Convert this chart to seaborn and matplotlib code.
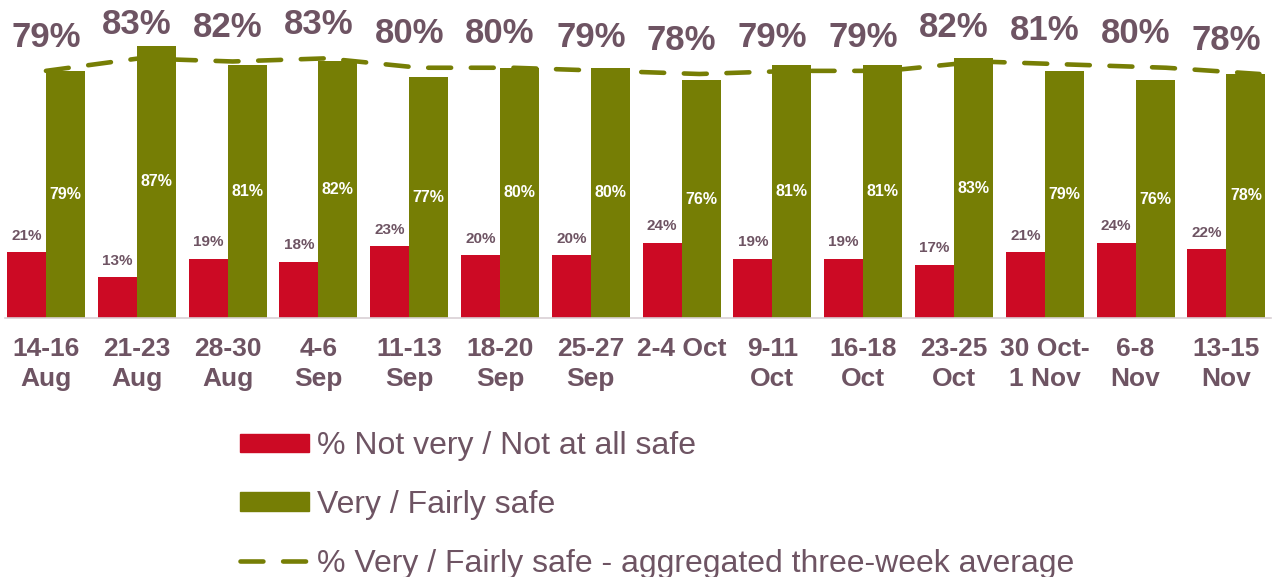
import numpy as np
import pandas as pd
import matplotlib.pyplot as plt
import seaborn as sns

# Data
weeks = ['14-16\nAug', '21-23\nAug', '28-30\nAug', '4-6\nSep', '11-13\nSep', '18-20\nSep',
         '25-27\nSep', '2-4 Oct', '9-11\nOct', '16-18\nOct', '23-25\nOct', '30 Oct-\n1 Nov',
         '6-8\nNov', '13-15\nNov']
not_safe = [21, 13, 19, 18, 23, 20, 20, 24, 19, 19, 17, 21, 24, 22]
safe = [79, 87, 81, 82, 77, 80, 80, 76, 81, 81, 83, 79, 76, 78]
avg_3wk = [79, 83, 82, 83, 80, 80, 79, 78, 79, 79, 82, 81, 80, 78]

RED = '#CC0A24'
GREEN = '#767E05'
TEXT = '#6E5463'

lbl_not = '% Not very / Not at all safe'
lbl_safe = 'Very / Fairly safe'
lbl_avg = '% Very / Fairly safe - aggregated three-week average'

df = pd.DataFrame({
    'Week': weeks * 2,
    'Value': not_safe + safe,
    'Group': [lbl_not] * len(weeks) + [lbl_safe] * len(weeks),
})

sns.set_style('white')
plt.rcParams['font.family'] = ['Liberation Sans', 'DejaVu Sans']

fig = plt.figure(figsize=(12.76, 5.77), dpi=100)
ax = fig.add_axes([0.004, 0.449, 0.992, 0.542])

sns.barplot(data=df, x='Week', y='Value', hue='Group', order=weeks,
            hue_order=[lbl_not, lbl_safe], palette=[RED, GREEN],
            width=0.86, gap=0, linewidth=0, saturation=1, ax=ax, legend=False)

# the average line sits on its own slightly wider category spacing
n = len(weeks)
line_x = np.arange(n) * 1.028
ax.plot(line_x, avg_3wk, color=GREEN, linewidth=3.3, linestyle=(0, (5.0, 4.3)),
        dash_capstyle='round', solid_capstyle='round')

ax.set_xlim(-0.45, 13.49)
ax.set_ylim(0, 100)
ax.set_xlabel('')
ax.set_ylabel('')
ax.set_yticks([])
for s in ['top', 'left', 'right']:
    ax.spines[s].set_visible(False)
ax.spines['bottom'].set_color('#D9D0D4')
ax.spines['bottom'].set_linewidth(1.2)

ax.tick_params(axis='x', length=0, pad=14)
for t in ax.get_xticklabels():
    t.set_fontsize(19)
    t.set_fontweight('bold')
    t.set_color(TEXT)
    t.set_linespacing(1.3)

off = 0.215
for i in range(n):
    ax.text(i - off, not_safe[i] + 3, f'{not_safe[i]}%', ha='center', va='bottom',
            fontsize=11, fontweight='bold', color=TEXT)
    ax.text(i + off, safe[i] / 2, f'{safe[i]}%', ha='center', va='center',
            fontsize=11.5, fontweight='bold', color='white')
    ax.text(i, avg_3wk[i] + 10.8, f'{avg_3wk[i]}%', ha='center', va='center',
            fontsize=25, fontweight='bold', color=TEXT)

handles = [
    plt.Rectangle((0, 0), 1, 1, color=RED),
    plt.Rectangle((0, 0), 1, 1, color=GREEN),
    plt.Line2D([0], [0], color=GREEN, linewidth=3.3, linestyle=(0, (5.0, 4.3)),
               dash_capstyle='round'),
]
leg = fig.legend(handles, [lbl_not, lbl_safe, lbl_avg], loc='upper left',
                 bbox_to_anchor=(0.178, 0.275), frameon=False, fontsize=23,
                 handlelength=2.15, handleheight=0.5, handletextpad=0.25,
                 labelspacing=0.9, borderaxespad=0)
for t in leg.get_texts():
    t.set_color(TEXT)

fig.savefig('out.png', dpi=100)
